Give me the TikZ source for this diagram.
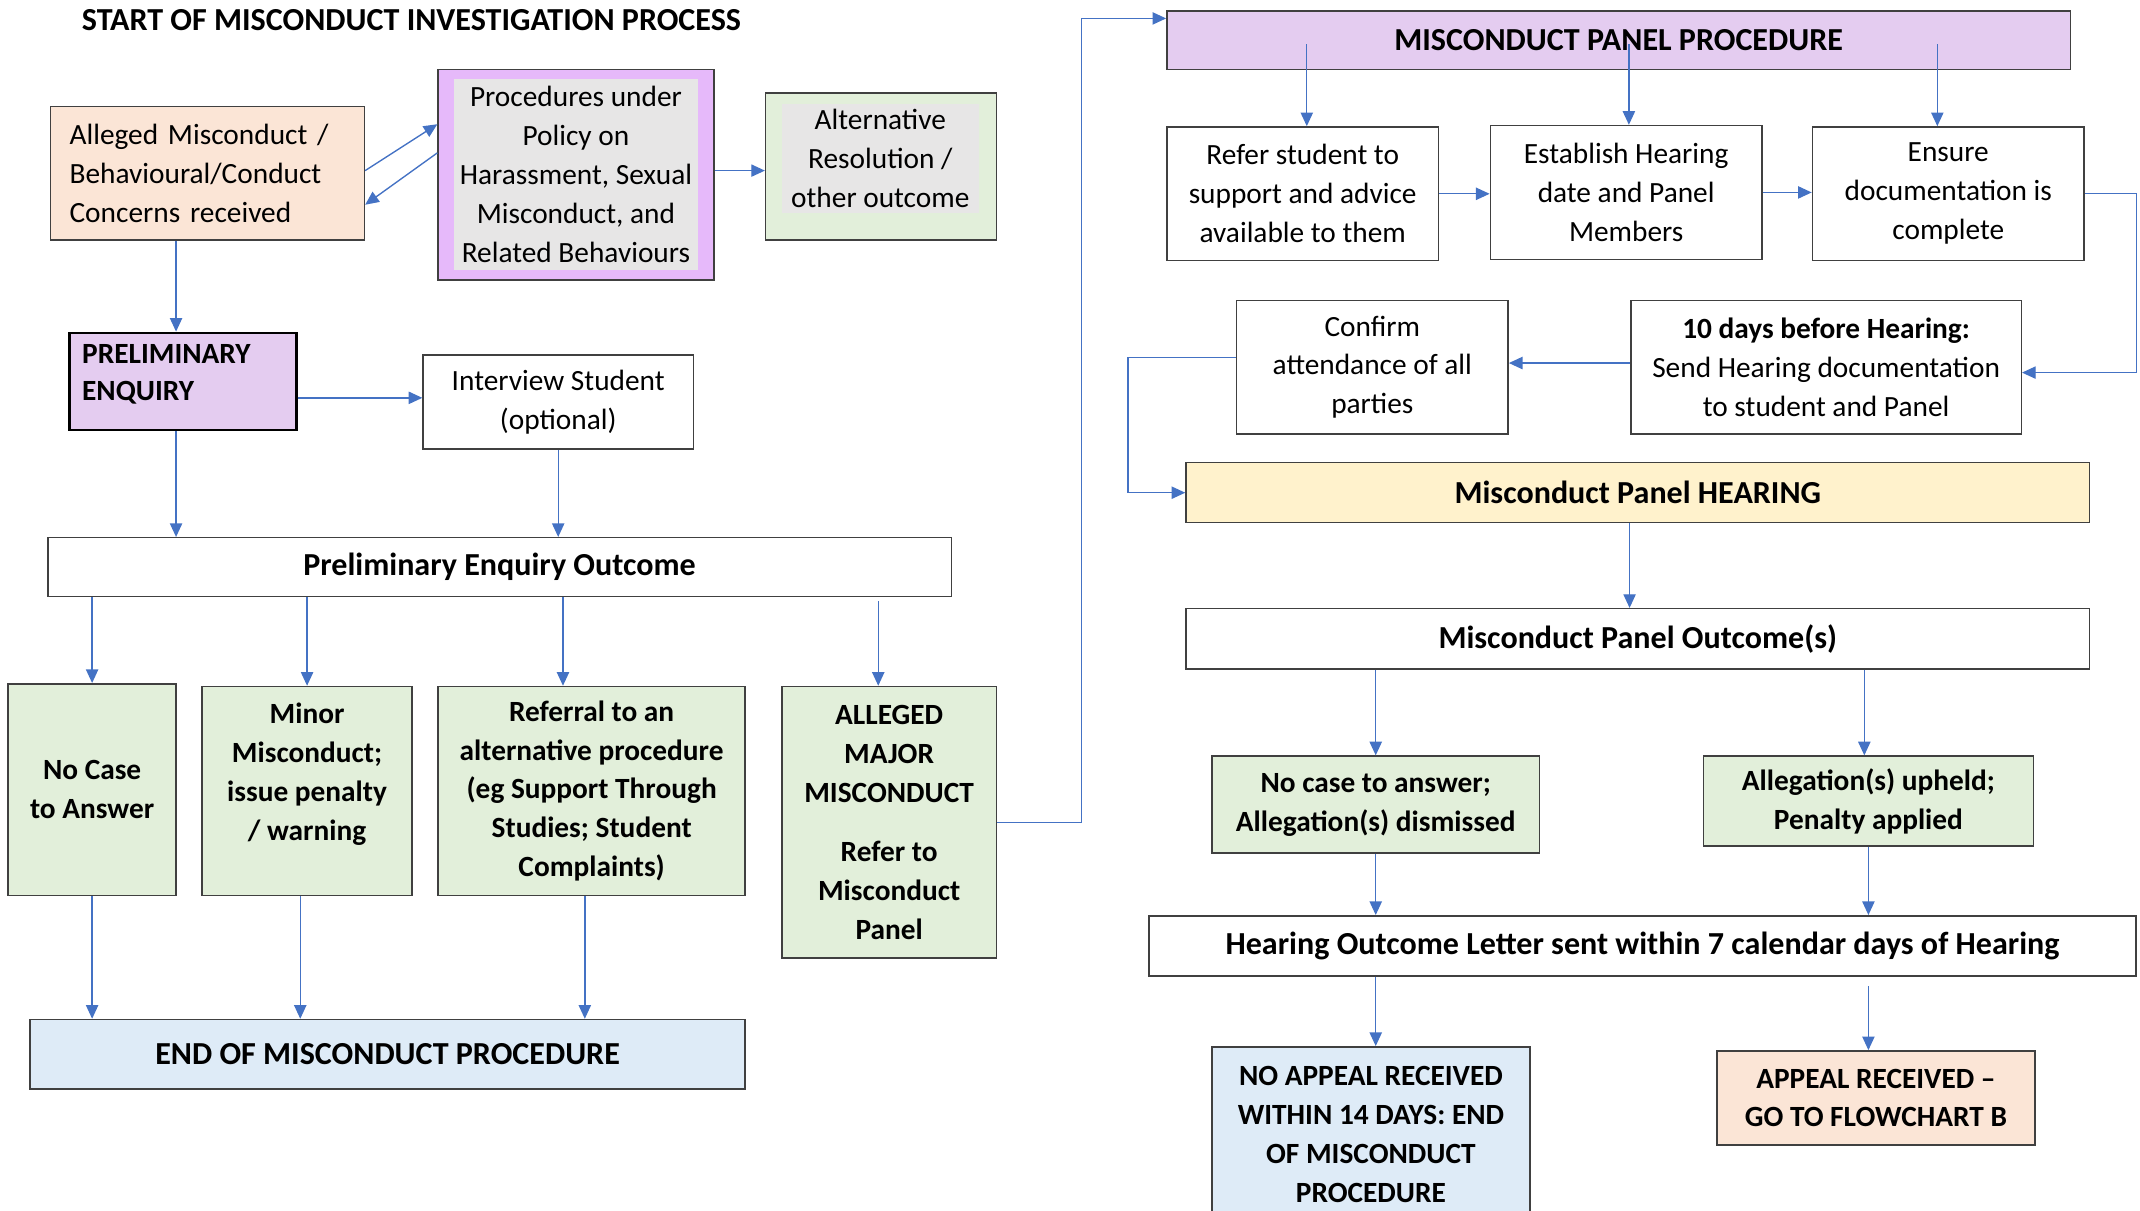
\documentclass[tikz,border=0pt]{standalone}
\usepackage{fontspec}
\setmainfont{Carlito}
\usetikzlibrary{arrows.meta,positioning}
\definecolor{linkblue}{RGB}{68,114,196}
\definecolor{peach}{RGB}{251,229,214}
\definecolor{orchid}{RGB}{230,185,250}
\definecolor{lilac}{RGB}{228,204,240}
\definecolor{softgrey}{RGB}{231,230,230}
\definecolor{sage}{RGB}{226,239,218}
\definecolor{paleblue}{RGB}{222,235,247}
\definecolor{cream}{RGB}{255,242,204}
\definecolor{edgegrey}{RGB}{64,64,64}
\tikzset{
  every node/.style={font=\fontsize{21.5}{28.5}\selectfont},
  box/.style={draw=edgegrey, line width=1.1pt, inner sep=0pt, align=center},
  bold box/.style={box, font=\fontsize{21.5}{28.5}\selectfont\bfseries},
  header box/.style={box, font=\fontsize{23.5}{28.5}\selectfont\bfseries},
  flow/.style={draw=linkblue, line width=1pt, -{Triangle[length=10pt,width=9pt]}}
}

\begin{document}
\begin{tikzpicture}[x=1pt, y=-1pt]
  \useasboundingbox (0,0) rectangle (1568,887);

  \node[font=\fontsize{23.5}{28.5}\selectfont\bfseries] (title) at (301.5,15)
    {START OF MISCONDUCT INVESTIGATION PROCESS};

  % investigation side
  \node[box, fill=peach, minimum width=230pt, minimum height=98pt,
    text width=202pt, align=left] (alleged) at (152,127)
    {Alleged Misconduct /\\Behavioural/Conduct\\Concerns received};
  \node[box, fill=orchid, minimum width=202pt, minimum height=154pt] (proc) at (422,128) {};
  \node[fill=softgrey, minimum width=179pt, minimum height=140pt, inner sep=0pt,
    align=center] (proctxt) at (proc.center)
    {Procedures under\\Policy on\\Harassment, Sexual\\Misconduct, and\\Related Behaviours};
  \node[box, fill=sage, minimum width=169pt, minimum height=108pt] (alt) at (645.5,122) {};
  \node[fill=softgrey, minimum width=144pt, minimum height=80pt, inner sep=0pt,
    align=center] (alttxt) at (645,116)
    {Alternative\\Resolution /\\other outcome};

  \node[box, fill=lilac, draw=black, line width=2pt, minimum width=166pt,
    minimum height=71pt] (prelim) at (134,279.5) {};
  \node[font=\fontsize{21.5}{28.5}\selectfont\bfseries, anchor=north west,
    align=left, inner sep=0pt] (prelimtxt) at ([xshift=10pt,yshift=-9pt]prelim.north west)
    {PRELIMINARY\\[-1.5pt]ENQUIRY};
  \node[box, minimum width=198pt, minimum height=69pt] (interview) at (409,294.5)
    {Interview Student\\(optional)};
  \node[header box, minimum width=662pt, minimum height=43pt] (peo) at (366,415.5)
    {Preliminary Enquiry Outcome};

  \node[bold box, fill=sage, minimum width=123pt, minimum height=155pt] (nocase) at (67.5,578.5)
    {No Case\\to Answer};
  \node[bold box, fill=sage, minimum width=154pt, minimum height=153pt] (minor) at (225,579.5)
    {Minor\\Misconduct;\\issue penalty\\/ warning\\\mbox{}};
  \node[bold box, fill=sage, minimum width=225pt, minimum height=153pt] (referral) at (433.5,579.5)
    {Referral to an\\alternative procedure\\(eg Support Through\\Studies; Student\\Complaints)};
  \node[bold box, fill=sage, minimum width=157pt, minimum height=199pt] (major) at (651.5,602.5)
    {ALLEGED\\MAJOR\\MISCONDUCT\\[15pt]Refer to\\Misconduct\\Panel};
  \node[header box, fill=paleblue, minimum width=524pt, minimum height=51pt] (endproc) at (284,772.5)
    {END OF MISCONDUCT PROCEDURE};

  % panel side
  \node[header box, fill=lilac, minimum width=662pt, minimum height=43pt] (panel) at (1186,29.5)
    {MISCONDUCT PANEL PROCEDURE};
  \node[box, minimum width=199pt, minimum height=98pt] (refer) at (954.5,142)
    {Refer student to\\support and advice\\available to them};
  \node[box, minimum width=199pt, minimum height=98pt] (establish) at (1191.5,141)
    {Establish Hearing\\date and Panel\\Members};
  \node[box, minimum width=199pt, minimum height=98pt] (ensure) at (1427.5,142)
    {Ensure\\documentation is\\complete};
  \node[box, minimum width=199pt, minimum height=98pt] (confirm) at (1005.5,269)
    {Confirm\\attendance of all\\parties};
  \node[box, minimum width=286pt, minimum height=98pt] (tendays) at (1338,269)
    {\textbf{10 days before Hearing:}\\Send Hearing documentation\\to student and Panel};
  \node[header box, fill=cream, minimum width=662pt, minimum height=44pt] (hearing) at (1200,361)
    {Misconduct Panel HEARING};
  \node[header box, minimum width=662pt, minimum height=44pt] (outcome) at (1200,468)
    {Misconduct Panel Outcome(s)};
  \node[bold box, fill=sage, minimum width=240pt, minimum height=71pt] (dismissed) at (1008,589.5)
    {No case to answer;\\Allegation(s) dismissed};
  \node[bold box, fill=sage, minimum width=242pt, minimum height=66pt] (upheld) at (1369,587)
    {Allegation(s) upheld;\\Penalty applied};
  \node[header box, minimum width=723pt, minimum height=44pt] (letter) at (1203.5,693)
    {Hearing Outcome Letter sent within 7 calendar days of Hearing};
  \node[bold box, fill=paleblue, minimum width=233pt, minimum height=128pt] (noappeal) at (1004.5,831)
    {NO APPEAL RECEIVED\\WITHIN 14 DAYS: END\\OF MISCONDUCT\\PROCEDURE};
  \node[bold box, fill=peach, minimum width=233pt, minimum height=69pt] (appeal) at (1374.5,804.5)
    {APPEAL RECEIVED –\\GO TO FLOWCHART B};

  % connectors, investigation side
  \draw[flow] ([yshift=2pt]alleged.east) -- ([yshift=37pt]proc.west);
  \draw[flow] ([yshift=16pt]proc.west) -- ([yshift=-23pt]alleged.east);
  \draw[flow] ([yshift=3pt]proc.east) -- ([yshift=3pt]proc.east -| alt.west);
  \draw[flow] ([xshift=-5pt]prelim.north |- alleged.south) -- ([xshift=-5pt]prelim.north);
  \draw[flow] ([yshift=3pt]interview.west -| prelim.east) -- ([yshift=3pt]interview.west);
  \draw[flow] ([xshift=-5pt]prelim.south) -- ([xshift=-5pt]prelim.south |- peo.north);
  \draw[flow] (interview.south) -- (interview.south |- peo.north);
  \draw[flow] (nocase.north |- peo.south) -- (nocase.north);
  \draw[flow] (minor.north |- peo.south) -- (minor.north);
  \draw[flow] ([xshift=-21pt]referral.north |- peo.south) -- ([xshift=-21pt]referral.north);
  \draw[flow] ([xshift=-8pt,yshift=-3pt]major.north |- peo.south) -- ([xshift=-8pt]major.north);
  \draw[flow] (nocase.south) -- (nocase.south |- endproc.north);
  \draw[flow] ([xshift=-5pt]minor.south) -- ([xshift=-5pt]minor.south |- endproc.north);
  \draw[flow] ([xshift=-5pt]referral.south) -- ([xshift=-5pt]referral.south |- endproc.north);
  \draw[flow] (major.east) -- ++(62,0) |- ([yshift=16pt]panel.west);

  % connectors, panel side
  \draw[flow] ([xshift=3pt,yshift=-3pt]refer.north |- panel.center) -- ([xshift=3pt]refer.north);
  \draw[flow] ([xshift=2pt,yshift=-3pt]establish.north |- panel.center) -- ([xshift=2pt]establish.north);
  \draw[flow] ([xshift=-8pt,yshift=-3pt]ensure.north |- panel.center) -- ([xshift=-8pt]ensure.north);
  \draw[flow] (refer.east) -- (refer.east -| establish.west);
  \draw[flow] (establish.east) -- (establish.east -| ensure.west);
  \draw[flow] (ensure.east) -- ++(38,0) |- ([yshift=-4pt]tendays.east);
  \draw[flow] ([yshift=3pt]tendays.west) -- ([yshift=3pt]tendays.west -| confirm.east);
  \draw[flow] ([yshift=7pt]confirm.west) -- ++(-79,0) |- (hearing.west);
  \draw[flow] ([xshift=-6pt]hearing.south) -- ([xshift=-6pt]outcome.north);
  \draw[flow] (dismissed.north |- outcome.south) -- (dismissed.north);
  \draw[flow] ([xshift=-3pt]upheld.north |- outcome.south) -- ([xshift=-3pt]upheld.north);
  \draw[flow] (dismissed.south) -- (dismissed.south |- letter.north);
  \draw[flow] (upheld.south) -- (upheld.south |- letter.north);
  \draw[flow] (letter.south -| dismissed.south) -- (noappeal.north -| dismissed.south);
  \draw[flow] ([yshift=-7pt]letter.south -| upheld.south) -- (appeal.north -| upheld.south);
\end{tikzpicture}
\end{document}
